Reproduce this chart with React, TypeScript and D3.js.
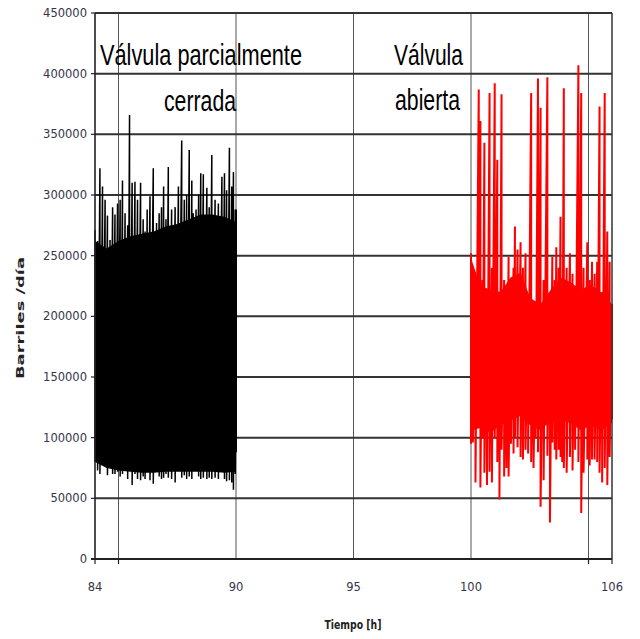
import React from "react";
import * as d3 from "d3";

const W = 640;
const H = 639;

// Axis ticks / labels
const yTicks = [0, 50000, 100000, 150000, 200000, 250000, 300000, 350000, 400000, 450000];
const xTickLabels = [84, 90, 95, 100, 106];
const xGridHours = [85, 90, 95, 100, 105];
const xOuterTicks = [84, 85, 105, 106];

// Black series ("Válvula parcialmente cerrada"): sample hour, local maximum, local minimum
const blackHours = [84.0, 84.11, 84.21, 84.32, 84.43, 84.53, 84.64, 84.75, 84.85, 84.96, 85.07, 85.17, 85.28, 85.39, 85.47, 85.58, 85.7, 85.81, 85.94, 86.05, 86.13, 86.22, 86.34, 86.48, 86.62, 86.73, 86.83, 86.92, 87.02, 87.12, 87.26, 87.41, 87.55, 87.69, 87.8, 87.9, 88.01, 88.12, 88.18, 88.3, 88.41, 88.5, 88.61, 88.76, 88.86, 88.97, 89.11, 89.25, 89.4, 89.51, 89.6, 89.72, 89.82, 89.89, 89.97, 90.01];
const blackHigh = [271000, 262000, 322000, 307000, 296000, 283000, 263000, 290000, 284000, 293000, 296000, 312000, 285000, 275000, 366000, 310000, 311000, 296000, 310000, 280000, 270000, 288000, 299000, 322000, 277000, 285000, 290000, 307000, 280000, 323000, 288000, 290000, 307000, 345000, 296000, 300000, 337000, 312000, 285000, 288000, 300000, 318000, 317000, 306000, 290000, 333000, 296000, 293000, 315000, 318000, 304000, 339000, 307000, 319000, 288000, 288000];
const blackLow = [80000, 73000, 70000, 92000, 86000, 69000, 80000, 70000, 70000, 72000, 68000, 70000, 82000, 66000, 90000, 61000, 70000, 66000, 65000, 68000, 66000, 106000, 65000, 62000, 94000, 68000, 66000, 67000, 70000, 67000, 66000, 63000, 84000, 67000, 69000, 66000, 68000, 66000, 86000, 88000, 68000, 66000, 67000, 66000, 67000, 66000, 67000, 66000, 92000, 66000, 64000, 65000, 63000, 57000, 70000, 88000];

// Dense (solid-looking) band of the black series
const blackCoreHours = [84.0, 84.5, 85.0, 85.5, 86.0, 86.5, 87.0, 87.5, 88.0, 88.5, 89.0, 89.5, 90.0];
const blackCoreTop = [262000, 256000, 262000, 266000, 268000, 270000, 274000, 276000, 280000, 284000, 284000, 282000, 278000];
const blackCoreBottom = [80000, 75000, 73000, 72000, 71000, 71000, 72000, 72000, 72000, 72000, 72000, 71000, 72000];

// Red series ("Válvula abierta"): sample hour, local maximum, local minimum
const redHours = [100.0, 100.08, 100.19, 100.33, 100.4, 100.49, 100.57, 100.68, 100.79, 100.89, 101.01, 101.12, 101.21, 101.3, 101.41, 101.51, 101.6, 101.7, 101.81, 101.87, 101.98, 102.11, 102.21, 102.32, 102.43, 102.56, 102.66, 102.75, 102.85, 102.96, 103.09, 103.25, 103.36, 103.46, 103.56, 103.63, 103.73, 103.81, 103.88, 103.95, 104.07, 104.21, 104.32, 104.43, 104.57, 104.69, 104.79, 104.95, 105.05, 105.15, 105.26, 105.37, 105.47, 105.58, 105.69, 105.8, 105.9, 106.0];
const redHigh = [252000, 225000, 215000, 387000, 361000, 230000, 343000, 215000, 384000, 240000, 392000, 329000, 220000, 383000, 230000, 200000, 249000, 230000, 240000, 274000, 255000, 261000, 240000, 252000, 210000, 384000, 200000, 180000, 396000, 372000, 230000, 397000, 215000, 249000, 230000, 257000, 240000, 282000, 220000, 388000, 240000, 252000, 235000, 220000, 407000, 384000, 240000, 261000, 230000, 245000, 235000, 245000, 373000, 220000, 384000, 270000, 245000, 210000];
const redLow = [95000, 96000, 63000, 120000, 59000, 100000, 71000, 61000, 72000, 63000, 100000, 80000, 49000, 90000, 68000, 75000, 68000, 95000, 87000, 100000, 92000, 84000, 82000, 90000, 87000, 80000, 75000, 100000, 88000, 43000, 65000, 85000, 30000, 96000, 90000, 82000, 90000, 84000, 80000, 75000, 71000, 84000, 73000, 90000, 80000, 38000, 71000, 82000, 77000, 82000, 82000, 80000, 71000, 63000, 75000, 61000, 84000, 115000];

// Dense core band of the red series
const redCoreHours = [100.0, 100.4, 100.83, 101.26, 101.68, 102.11, 102.53, 102.96, 103.39, 103.81, 104.24, 104.67, 105.09, 105.52, 106.0];
const redCoreTop = [248000, 225000, 222000, 220000, 232000, 236000, 215000, 210000, 222000, 232000, 228000, 222000, 226000, 220000, 210000];
const redCoreBottom = [106000, 108000, 104000, 110000, 114000, 118000, 110000, 106000, 114000, 114000, 112000, 106000, 110000, 106000, 112000];

const tickFont = "'DejaVu Sans', Verdana, sans-serif";
const annFont = "'Liberation Sans', Arial, sans-serif";

export default function App() {
  const x = d3.scaleLinear().domain([84, 106]).range([95, 612]);
  const y = d3.scaleLinear().domain([0, 450000]).range([559, 13]);

  const zig = (hours: number[], hi: number[], lo: number[]) => {
    const pts: [number, number][] = [];
    hours.forEach((h, i) => {
      pts.push([h, hi[i]]);
      pts.push([h, lo[i]]);
    });
    return pts;
  };

  const line = d3
    .line<[number, number]>()
    .x((d) => x(d[0]))
    .y((d) => y(d[1]));

  const areaOf = (hours: number[], top: number[], bottom: number[]) =>
    d3
      .area<number>()
      .x((h) => x(h))
      .y0((_, i) => y(bottom[i]))
      .y1((_, i) => y(top[i]))(hours) || "";

  const blackPath = line(zig(blackHours, blackHigh, blackLow)) || "";
  const redPath = line(zig(redHours, redHigh, redLow)) || "";
  const blackArea = areaOf(blackCoreHours, blackCoreTop, blackCoreBottom);
  const redArea = areaOf(redCoreHours, redCoreTop, redCoreBottom);

  const x0 = x(84);
  const x1 = x(106);
  const yb = y(0);

  return (
    <svg
      width={W}
      height={H}
      viewBox={`0 0 ${W} ${H}`}
      style={{ position: "absolute", left: 0, top: 0, display: "block", background: "#fff" }}
    >
      <rect x={0} y={0} width={W} height={H} fill="#fff" />

      {/* vertical grid */}
      {xGridHours.map((h) => (
        <line key={"vg" + h} x1={x(h)} x2={x(h)} y1={y(450000)} y2={yb} stroke="#555" strokeWidth={1} />
      ))}
      {/* horizontal grid */}
      {yTicks.filter((t) => t > 0).map((t) => (
        <line key={"hg" + t} x1={x0} x2={x1} y1={y(t)} y2={y(t)} stroke="#333" strokeWidth={2} />
      ))}

      {/* data */}
      <path d={blackArea} fill="#000" stroke="none" />
      <path d={blackPath} fill="none" stroke="#000" strokeWidth={1.5} strokeLinejoin="miter" />
      <path d={redArea} fill="#ff0000" stroke="none" />
      <path d={redPath} fill="none" stroke="#ff0000" strokeWidth={2} strokeLinejoin="miter" />

      {/* axes frame */}
      <line x1={x0} x2={x0} y1={y(450000)} y2={yb} stroke="#222" strokeWidth={1.6} />
      <line x1={x1} x2={x1} y1={y(450000)} y2={yb} stroke="#333" strokeWidth={1.5} />
      <line x1={x0 - 4} x2={x1} y1={yb} y2={yb} stroke="#222" strokeWidth={2} />

      {/* y ticks */}
      {yTicks.map((t) => (
        <g key={"yt" + t}>
          <line x1={x0 - 4} x2={x0} y1={y(t)} y2={y(t)} stroke="#222" strokeWidth={1.2} />
          <text
            x={87}
            y={y(t)}
            textAnchor="end"
            dominantBaseline="central"
            fontFamily={tickFont}
            fontSize={11.5}
            fill="#34344a"
          >
            {t}
          </text>
        </g>
      ))}

      {/* x ticks */}
      {xOuterTicks.map((h) => (
        <line key={"xt" + h} x1={x(h)} x2={x(h)} y1={yb} y2={yb + 5} stroke="#222" strokeWidth={1.2} />
      ))}
      {xTickLabels.map((h) => (
        <text
          key={"xl" + h}
          x={x(h)}
          y={587}
          textAnchor="middle"
          dominantBaseline="central"
          fontFamily={tickFont}
          fontSize={11.5}
          fill="#34344a"
        >
          {h}
        </text>
      ))}

      {/* axis titles */}
      <text
        x={353}
        y={625}
        textAnchor="middle"
        dominantBaseline="central"
        fontFamily={tickFont}
        fontWeight="bold"
        fontSize={12}
        fill="#222"
        textLength={57}
        lengthAdjust="spacingAndGlyphs"
      >
        Tiempo [h]
      </text>
      <text
        transform="translate(20,318) rotate(-90)"
        textAnchor="middle"
        dominantBaseline="central"
        fontFamily={tickFont}
        fontWeight="bold"
        fontSize={11}
        fill="#222"
        textLength={122}
        lengthAdjust="spacingAndGlyphs"
      >
        Barriles /día
      </text>

      {/* annotations */}
      <text x={100} y={65} fontFamily={annFont} fontSize={29} fill="#000" textLength={202} lengthAdjust="spacingAndGlyphs">
        Válvula parcialmente
      </text>
      <text x={164} y={111} fontFamily={annFont} fontSize={29} fill="#000" textLength={72} lengthAdjust="spacingAndGlyphs">
        cerrada
      </text>
      <text x={394} y={65} fontFamily={annFont} fontSize={29} fill="#000" textLength={69} lengthAdjust="spacingAndGlyphs">
        Válvula
      </text>
      <text x={395} y={110} fontFamily={annFont} fontSize={29} fill="#000" textLength={65} lengthAdjust="spacingAndGlyphs">
        abierta
      </text>
    </svg>
  );
}
